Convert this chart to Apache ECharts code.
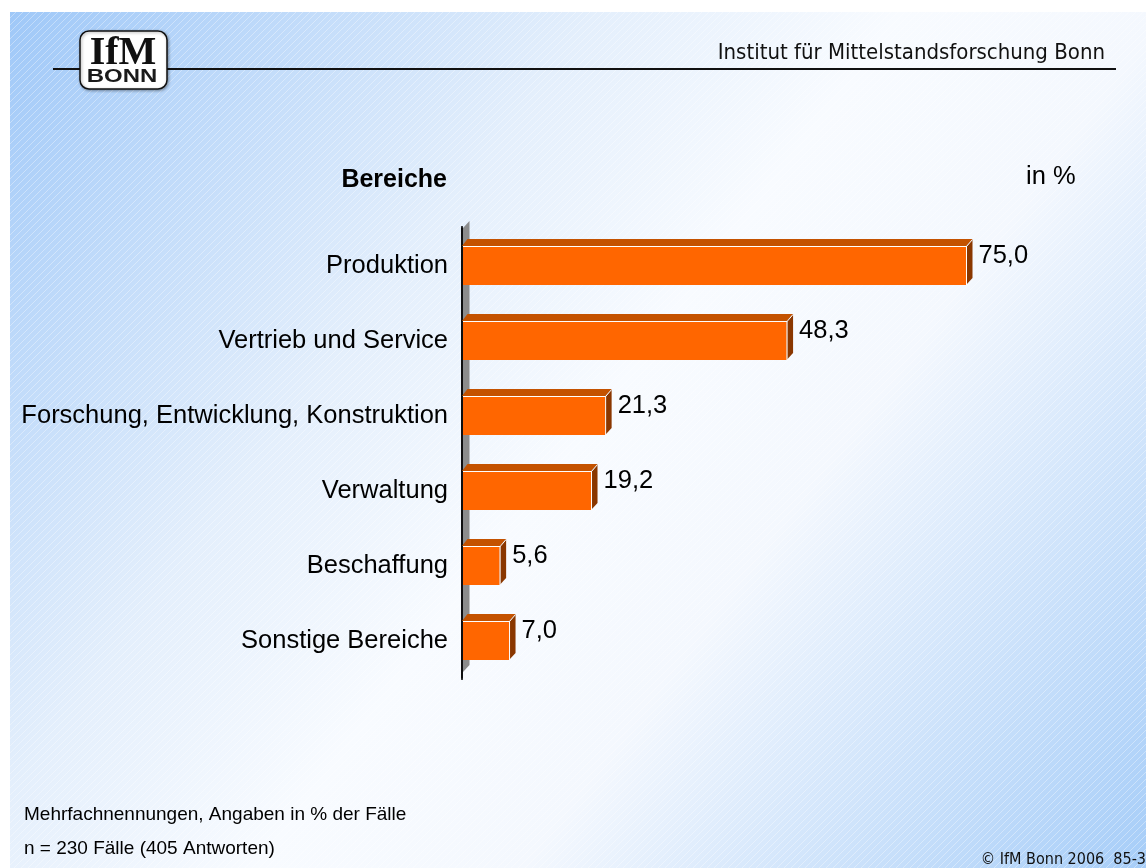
<!DOCTYPE html>
<html>
<head>
<meta charset="utf-8">
<script src="https://cdn.jsdelivr.net/npm/echarts@6/dist/echarts.min.js"></script>
<style>
html,body{margin:0;padding:0;background:#fff;}
#chart{width:1146px;height:868px;}
</style>
</head>
<body>
<div id="chart"></div>
<script>
// ---- data ----
const categories = ['Produktion', 'Vertrieb und Service', 'Forschung, Entwicklung, Konstruktion', 'Verwaltung', 'Beschaffung', 'Sonstige Bereiche'];
const values = [75.0, 48.3, 21.3, 19.2, 5.6, 7.0];
const axisTitle = 'Bereiche';
const unitLabel = 'in %';
const headerText = 'Institut für Mittelstandsforschung Bonn';
const footnotes = ['Mehrfachnennungen, Angaben in % der Fälle', 'n = 230 Fälle (405 Antworten)'];
const copyright = '© IfM Bonn 2006  85-3';

// ---- layout ----
const GRID_LEFT = 462, GRID_TOP = 228, GRID_H = 450, X_MAX = 80, PX_PER_UNIT = 6.72;
const DX = 6.5, DY = 7;
const SANS = '"Liberation Sans", Arial, sans-serif';
const TAHOMA = '"DejaVu Sans Condensed", "DejaVu Sans", sans-serif';

const chart = echarts.init(document.getElementById('chart'), null, {renderer: 'canvas'});

// hatch pattern
const pc = document.createElement('canvas');
pc.width = 7; pc.height = 7;
const ctx = pc.getContext('2d');
ctx.strokeStyle = 'rgba(255,255,255,0.35)';
ctx.lineWidth = 1;
ctx.beginPath();
ctx.moveTo(-1, 8); ctx.lineTo(8, -1);
ctx.stroke();

function fmt(v) { return v.toFixed(1).replace('.', ','); }

const data = values.map((v, i) => [v, i]);

const option = {
  animation: false,
  backgroundColor: '#ffffff',
  grid: {left: GRID_LEFT, top: GRID_TOP, height: GRID_H, width: X_MAX * PX_PER_UNIT, containLabel: false},
  xAxis: {type: 'value', min: 0, max: X_MAX, show: false},
  yAxis: {
    type: 'category', data: categories, inverse: true,
    axisLine: {show: true, lineStyle: {color: '#000', width: 1.5}},
    axisTick: {show: false},
    splitLine: {show: false},
    axisLabel: {fontSize: 25.5, color: '#000', fontFamily: SANS, margin: 14}
  },
  graphic: [
    {type: 'rect', z: -10, silent: true, shape: {x: 10, y: 12, width: 1136, height: 856},
      style: {fill: new echarts.graphic.LinearGradient(0, 0, 1, 1, [
        {offset: 0, color: '#9fc8f8'},
        {offset: 0.33, color: '#e4effc'},
        {offset: 0.5, color: '#f8fbff'},
        {offset: 0.65, color: '#f4f8fe'},
        {offset: 1, color: '#a6cdf8'}
      ])}},
    {type: 'rect', z: -9, silent: true, shape: {x: 10, y: 12, width: 1136, height: 856},
      style: {fill: {image: pc, repeat: 'repeat'}}},
    // header line
    {type: 'line', z: -5, silent: true, shape: {x1: 53, y1: 69, x2: 1116, y2: 69}, style: {stroke: '#111', lineWidth: 2}},
    // logo
    {type: 'rect', z: -4, silent: true, shape: {x: 80, y: 31, width: 87, height: 58, r: 9},
      style: {fill: '#fff', stroke: '#111', lineWidth: 1.5, shadowBlur: 3, shadowColor: 'rgba(0,0,0,0.35)', shadowOffsetX: 1, shadowOffsetY: 1}},
    {type: 'text', z: -3, silent: true, style: {text: 'IfM', x: 123, y: 54, align: 'center', verticalAlign: 'middle',
      font: 'bold 40px "Liberation Serif", "Times New Roman", serif', fill: '#111'}},
    {type: 'text', z: -3, silent: true, x: 122, y: 77, scaleX: 1.33, style: {text: 'BONN', x: 0, y: 0, align: 'center', verticalAlign: 'middle',
      font: 'bold 18px ' + SANS, fill: '#1a1a1a'}},
    {type: 'text', z: -3, silent: true, style: {text: headerText, x: 1105, y: 53, align: 'right', verticalAlign: 'middle',
      font: '22px ' + TAHOMA, fill: '#111'}},
    // titles
    {type: 'text', silent: true, style: {text: axisTitle, x: 447, y: 180, align: 'right', verticalAlign: 'middle',
      font: 'bold 25px ' + SANS, fill: '#000'}},
    {type: 'text', silent: true, style: {text: unitLabel, x: 1026, y: 177, align: 'left', verticalAlign: 'middle',
      font: '25.5px ' + SANS, fill: '#000'}},
    // 3D axis wall
    {type: 'polygon', z: 1, silent: true, shape: {points: [[GRID_LEFT + 1, GRID_TOP], [GRID_LEFT + 1 + DX, GRID_TOP - DY], [GRID_LEFT + 1 + DX, GRID_TOP + GRID_H - 13], [GRID_LEFT + 1, GRID_TOP + GRID_H - 6]]},
      style: {fill: '#8c8c8c'}},
    {type: 'line', z: 1, silent: true, shape: {x1: GRID_LEFT, y1: GRID_TOP - 2, x2: GRID_LEFT, y2: GRID_TOP + GRID_H + 2}, style: {stroke: '#000', lineWidth: 1.5}},
    // footnotes
    {type: 'text', silent: true, style: {text: footnotes[0], x: 24, y: 815, align: 'left', verticalAlign: 'middle', font: '19px ' + SANS, fill: '#000'}},
    {type: 'text', silent: true, style: {text: footnotes[1], x: 24, y: 849, align: 'left', verticalAlign: 'middle', font: '19px ' + SANS, fill: '#000'}},
    {type: 'text', silent: true, style: {text: copyright, x: 1146, y: 860, align: 'right', verticalAlign: 'middle', font: '16px ' + TAHOMA, fill: '#111'}}
  ],
  series: [{
    type: 'custom',
    z: 3,
    coordinateSystem: 'cartesian2d',
    encode: {x: 0, y: 1},
    data: data,
    renderItem: function (params, api) {
      const v = api.value(0), i = api.value(1);
      const p0 = api.coord([0, i]);
      const p1 = api.coord([v, i]);
      const bw = api.size([0, 1])[1] * 0.52;
      const x0 = p0[0] + 1, x1 = p1[0], top = p0[1] - bw / 2, bot = p0[1] + bw / 2;
      return {
        type: 'group',
        children: [
          {type: 'polygon', shape: {points: [[x0 - 1, top], [x0 + DX - 2, top - DY], [x1 + DX, top - DY], [x1, top]]},
            style: {fill: '#c45200'}},
          {type: 'polygon', shape: {points: [[x1, top], [x1 + DX, top - DY], [x1 + DX, bot - DY], [x1, bot]]},
            style: {fill: '#8a3700'}},
          {type: 'rect', shape: {x: x0, y: top, width: x1 - x0, height: bw}, style: {fill: '#ff6600'}},
          {type: 'polyline', shape: {points: [[x0, top + 0.5], [x1 + 0.5, top + 0.5], [x1 + DX, top - DY + 0.5]]},
            style: {stroke: '#fff', lineWidth: 1, fill: null}},
          {type: 'line', shape: {x1: x1 + 0.5, y1: top, x2: x1 + 0.5, y2: bot}, style: {stroke: '#fff', lineWidth: 1}},
          {type: 'text', style: {text: fmt(v), x: x1 + DX + 6, y: p0[1] - 10, align: 'left', verticalAlign: 'middle',
            font: '25.5px ' + SANS, fill: '#000'}}
        ]
      };
    }
  }]
};
chart.setOption(option);
</script>
</body>
</html>
